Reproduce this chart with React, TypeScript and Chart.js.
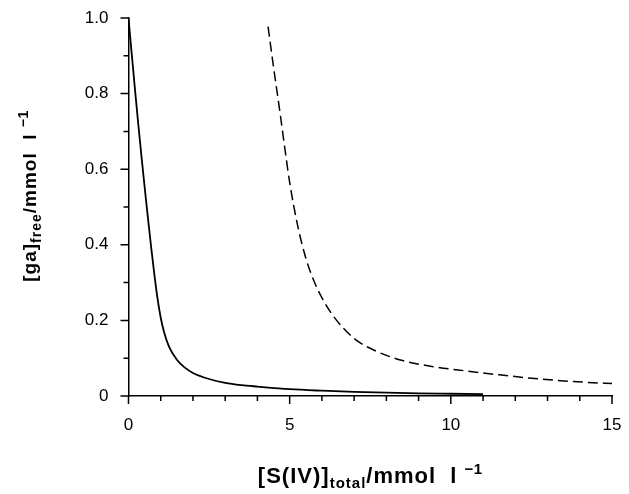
import React, { useEffect, useRef } from "react";
import { Chart, registerables } from "chart.js";

Chart.register(...registerables);

// Solid curve
const solidX = [0, 0.1, 0.2, 0.3, 0.4, 0.5, 0.6, 0.7, 0.8, 0.9, 1.0, 1.1, 1.25, 1.5, 1.75, 2, 2.5, 3, 3.5, 4, 5, 6, 7, 8, 9, 10, 11];
const solidY = [1.0, 0.905, 0.812, 0.722, 0.636, 0.553, 0.473, 0.396, 0.323, 0.258, 0.207, 0.17, 0.132, 0.096, 0.075, 0.061, 0.045, 0.035, 0.029, 0.025, 0.018, 0.014, 0.011, 0.009, 0.007, 0.006, 0.005];

// Dashed curve
const dashX = [4.33, 4.5, 4.7, 4.85, 5.0, 5.25, 5.5, 5.75, 6.0, 6.35, 7.0, 7.7, 8.5, 9.5, 10.5, 11.5, 12.5, 13.5, 14.25, 15];
const dashY = [0.977, 0.87, 0.75, 0.655, 0.565, 0.45, 0.365, 0.305, 0.26, 0.212, 0.152, 0.118, 0.094, 0.077, 0.066, 0.056, 0.047, 0.04, 0.036, 0.033];

// Axis ticks
const xMajor = [0, 5, 10, 15];
const xMinor = [1, 2, 3, 4, 6, 7, 8, 9, 11, 12, 13, 14];
const yMajor = [0, 0.2, 0.4, 0.6, 0.8, 1.0];
const yMinor = [0.1, 0.3, 0.5, 0.7, 0.9];
const yLabels: Record<string, string> = { "0": "0", "0.2": "0.2", "0.4": "0.4", "0.6": "0.6", "0.8": "0.8", "1": "1.0" };

const FONT = '"Liberation Sans", Arial, sans-serif';

type Seg = { text: string; size: number; dy: number; ls: number };

const xTitle: Seg[] = [
  { text: "[S(IV)]", size: 22, dy: 0, ls: 1 },
  { text: "total", size: 15, dy: 5, ls: 1 },
  { text: "/mmol  l ", size: 22, dy: 0, ls: 1 },
  { text: "\u22121", size: 15, dy: -9, ls: 0.5 },
];
const yTitle: Seg[] = [
  { text: "[ga]", size: 19, dy: 0, ls: 1 },
  { text: "free", size: 14, dy: 5, ls: 1 },
  { text: "/mmol  l ", size: 19, dy: 0, ls: 1 },
  { text: "\u22121", size: 14, dy: -8, ls: 0.5 },
];

function drawRich(ctx: CanvasRenderingContext2D, segs: Seg[], cx: number, baseline: number) {
  const widths = segs.map((s) => {
    ctx.font = `bold ${s.size}px ${FONT}`;
    (ctx as any).letterSpacing = `${s.ls}px`;
    return ctx.measureText(s.text).width;
  });
  const total = widths.reduce((a, b) => a + b, 0);
  let x = cx - total / 2;
  segs.forEach((s, i) => {
    ctx.font = `bold ${s.size}px ${FONT}`;
    (ctx as any).letterSpacing = `${s.ls}px`;
    ctx.fillText(s.text, x, baseline + s.dy);
    x += widths[i];
  });
  (ctx as any).letterSpacing = "0px";
}

const decorPlugin = {
  id: "decor",
  afterDraw(chart: any) {
    const ctx: CanvasRenderingContext2D = chart.ctx;
    const xs = chart.scales.x;
    const ys = chart.scales.y;
    const area = chart.chartArea;
    ctx.save();
    ctx.strokeStyle = "#000";
    ctx.lineWidth = 1.5;
    ctx.beginPath();
    xMajor.forEach((v) => {
      const p = xs.getPixelForValue(v);
      ctx.moveTo(p, area.bottom);
      ctx.lineTo(p, area.bottom + 8);
    });
    xMinor.forEach((v) => {
      const p = xs.getPixelForValue(v);
      ctx.moveTo(p, area.bottom);
      ctx.lineTo(p, area.bottom + 5);
    });
    yMajor.forEach((v) => {
      const p = ys.getPixelForValue(v);
      ctx.moveTo(area.left, p);
      ctx.lineTo(area.left - 8, p);
    });
    yMinor.forEach((v) => {
      const p = ys.getPixelForValue(v);
      ctx.moveTo(area.left, p);
      ctx.lineTo(area.left - 5, p);
    });
    ctx.stroke();

    ctx.fillStyle = "#000";
    ctx.textAlign = "left";
    ctx.textBaseline = "alphabetic";
    drawRich(ctx, xTitle, (area.left + area.right) / 2, 483);

    ctx.translate(36, 196);
    ctx.rotate(-Math.PI / 2);
    drawRich(ctx, yTitle, 0, 0);
    ctx.restore();
  },
};

const zeroPad = (s: any) => {
  s.paddingTop = 0;
  s.paddingBottom = 0;
  s.paddingLeft = 0;
  s.paddingRight = 0;
};

export default function App() {
  const ref = useRef<HTMLCanvasElement | null>(null);
  useEffect(() => {
    if (!ref.current) return;
    const chart = new Chart(ref.current, {
      type: "line",
      data: {
        datasets: [
          {
            data: solidX.map((x, i) => ({ x, y: solidY[i] })),
            borderColor: "#000",
            borderWidth: 1.8,
            pointRadius: 0,
            cubicInterpolationMode: "monotone",
            fill: false,
          },
          {
            data: dashX.map((x, i) => ({ x, y: dashY[i] })),
            borderColor: "#000",
            borderWidth: 1.5,
            borderDash: [10, 5],
            pointRadius: 0,
            cubicInterpolationMode: "monotone",
            fill: false,
          },
        ],
      },
      options: {
        responsive: false,
        animation: false,
        events: [],
        layout: { padding: { left: 0, right: 17, top: 18, bottom: 0 } },
        plugins: { legend: { display: false }, tooltip: { enabled: false } },
        scales: {
          x: {
            type: "linear",
            min: 0,
            max: 15,
            grid: { display: false },
            border: { display: true, color: "#000", width: 1.5 },
            afterFit: (s: any) => {
              s.height = 98;
              zeroPad(s);
            },
            afterBuildTicks: (s: any) => {
              s.ticks = xMajor.map((v) => ({ value: v }));
            },
            ticks: {
              color: "#000",
              padding: 11,
              maxRotation: 0,
              autoSkip: false,
              font: { family: FONT, size: 17 },
              callback: (v: any) => String(v),
            },
          },
          y: {
            type: "linear",
            min: 0,
            max: 1,
            grid: { display: false },
            border: { display: true, color: "#000", width: 1.5 },
            afterFit: (s: any) => {
              s.width = 128.5;
              zeroPad(s);
            },
            afterBuildTicks: (s: any) => {
              s.ticks = yMajor.map((v) => ({ value: v }));
            },
            ticks: {
              color: "#000",
              padding: 12,
              autoSkip: false,
              font: { family: FONT, size: 17 },
              callback: (v: any) => yLabels[String(Math.round(v * 10) / 10)] ?? String(v),
            },
          },
        },
      },
      plugins: [decorPlugin],
    });
    return () => chart.destroy();
  }, []);
  return (
    <div style={{ position: "absolute", left: 0, top: 0, width: 629, height: 494, background: "#fff" }}>
      <canvas ref={ref} width={629} height={494} style={{ display: "block" }} />
    </div>
  );
}
